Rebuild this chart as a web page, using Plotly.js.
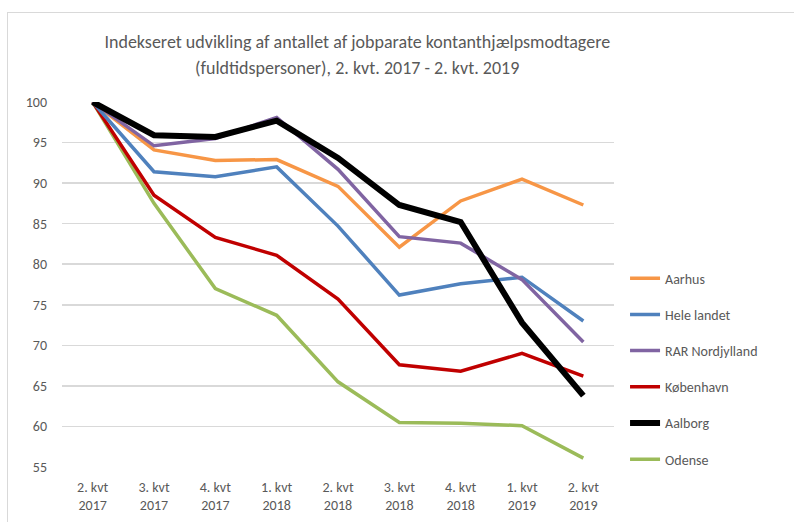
<!DOCTYPE html>
<html><head><meta charset="utf-8">
<script src="https://cdn.plot.ly/plotly-3.0.1.min.js"></script>
<style>
body{margin:0;padding:0;background:#fff;}
#wrap{position:relative;width:794px;height:522px;overflow:hidden;}
#frame{position:absolute;left:7px;top:12px;width:800px;height:530px;border:1px solid #d9d9d9;box-sizing:border-box;pointer-events:none;z-index:5;}
#chart{position:absolute;left:0;top:0;width:794px;height:522px;}
</style></head>
<body>
<div id="wrap"><div id="chart"></div><div id="frame"></div></div>
<script>
const categories = ["2. kvt<br>2017","3. kvt<br>2017","4. kvt<br>2017","1. kvt<br>2018","2. kvt<br>2018","3. kvt<br>2018","4. kvt<br>2018","1. kvt<br>2019","2. kvt<br>2019"];
const aarhus      = [100, 94.1, 92.8, 92.9, 89.6, 82.1, 87.8, 90.5, 87.3];
const heleLandet  = [100, 91.4, 90.8, 92.0, 84.7, 76.2, 77.6, 78.4, 73.0];
const rarNord     = [100, 94.6, 95.5, 98.1, 91.7, 83.4, 82.6, 78.1, 70.4];
const kobenhavn   = [100, 88.5, 83.3, 81.1, 75.7, 67.6, 66.8, 69.0, 66.2];
const aalborg     = [100, 95.9, 95.7, 97.7, 93.1, 87.3, 85.2, 72.8, 63.8];
const odense      = [100, 87.5, 77.0, 73.7, 65.5, 60.5, 60.4, 60.1, 56.1];
const seriesNames = ["Aarhus","Hele landet","RAR Nordjylland","København","Aalborg","Odense"];
const seriesData = [aarhus, heleLandet, rarNord, kobenhavn, aalborg, odense];
const titleLine1 = "Indekseret udvikling af antallet af jobparate kontanthjælpsmodtagere";
const titleLine2 = "(fuldtidspersoner), 2. kvt. 2017 - 2. kvt. 2019";
const colors = ["#F79646","#4F81BD","#8064A2","#C00000","#000000","#9BBB59"];
const widths = [3.5,3.5,3.5,3.5,6,3.5];
const drawOrder = [5,3,0,1,2,4];
const traces = [];
seriesNames.forEach((n,i)=>{
  traces.push({x:categories,y:seriesData[i],name:n,type:'scatter',mode:'lines',
    line:{color:colors[i],width:widths[i]},legendgroup:'g'+i,legendrank:i+1});
});
const ordered = drawOrder.map(i=>traces[i]);
const font = "Carlito, 'Liberation Sans Narrow', 'Liberation Sans', Arial, sans-serif";
const layout = {
  width:794,height:522,
  margin:{l:62,r:180,t:102,b:55},
  paper_bgcolor:'#fff',plot_bgcolor:'#fff',
  font:{family:font,color:'#595959',size:14},
  title:{text:titleLine1,
    font:{family:font,size:18,color:'#595959'},x:0.45,xref:'container',xanchor:'center',y:1-42/522,yref:'container',yanchor:'middle'},
  annotations:[{text:titleLine2,xref:'paper',yref:'paper',x:(357-62)/552,y:(466.7-68)/365,xanchor:'center',yanchor:'middle',
    showarrow:false,font:{family:font,size:18,color:'#595959'}}],
  xaxis:{type:'category',range:[-0.5,8.5],showgrid:false,zeroline:false,showline:false,ticks:'',
    tickfont:{family:font,size:14,color:'#595959'},ticklabelstandoff:10,fixedrange:true},
  yaxis:{range:[55,100],dtick:5,tick0:55,showgrid:true,gridcolor:'#d9d9d9',gridwidth:1.5,
    zeroline:false,showline:false,ticks:'',tickfont:{family:font,size:14,color:'#595959'},ticklabelstandoff:14},
  legend:{x:1.02,xanchor:'left',y:0.56,yanchor:'top',traceorder:'grouped',tracegroupgap:15,
    font:{family:font,size:14,color:'#595959'},bgcolor:'rgba(0,0,0,0)'},
  showlegend:true
};
Plotly.newPlot('chart',ordered,layout,{displayModeBar:false,staticPlot:true});
</script>
</body></html>
